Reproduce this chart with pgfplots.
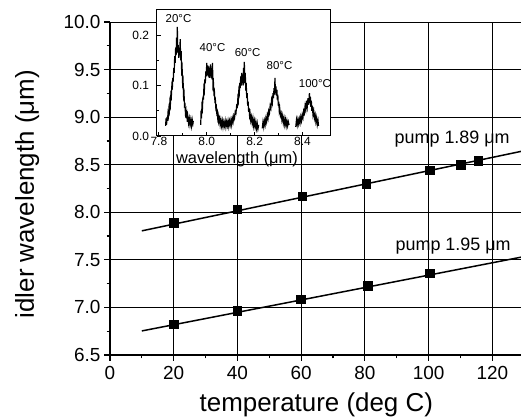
\documentclass[border=0pt]{standalone}
\usepackage{fontspec}
\setmainfont{Liberation Sans}
\usepackage{pgfplots}
\pgfplotsset{compat=1.18}
\begin{document}
\begin{tikzpicture}
\begin{axis}[
  at={(110bp,64bp)}, anchor=south west,
  scale only axis, width=411bp, height=333bp,
  xmin=0, xmax=129, ymin=6.5, ymax=10,
  axis x line*=bottom, axis y line*=left,
  xtick={0,20,...,120}, minor x tick num=1,
  ytick={6.5,7,...,10}, minor y tick num=1,
  tick align=outside,
  major tick length=6bp, minor tick length=3.5bp,
  grid=major, major grid style={black, line width=0.8bp},
  axis line style={line width=1.4bp},
  every tick/.style={black, line width=1.2bp},
  y tick label style={/pgf/number format/.cd,fixed,fixed zerofill,precision=1,/tikz/.cd},
  x tick label style={yshift=-2bp},
  /pgf/number format/assume math mode=true,
  tick label style={font=\fontsize{19}{22}\selectfont},
  xlabel={temperature (deg C)}, ylabel={idler wavelength (μm)},
  label style={font=\fontsize{26}{30}\selectfont},
  xlabel style={at={(rel axis cs:0.502,-0.171)}, anchor=base},
  ylabel style={at={(rel axis cs:-0.185,0.483)}, anchor=base},
]
\addplot[black, line width=1.5bp] coordinates {(10,7.805) (129,8.64)};
\addplot[only marks, mark=square*, mark size=4.2bp, black, mark options={line width=0.5bp}] coordinates {(20,7.89) (40,8.03) (60.3,8.17) (80.4,8.30) (100.3,8.44) (110.1,8.50) (115.6,8.54)};
\addplot[black, line width=1.5bp] coordinates {(10,6.753) (129,7.528)};
\addplot[only marks, mark=square*, mark size=4.2bp, black, mark options={line width=0.5bp}] coordinates {(20,6.826) (40,6.963) (59.9,7.086) (80.9,7.226) (100.3,7.36)};
\node[anchor=base, font=\fontsize{18}{21}\selectfont] at (axis cs:107.4,8.72) {pump 1.89 μm};
\node[anchor=base, font=\fontsize{18}{21}\selectfont] at (axis cs:107.7,7.598) {pump 1.95 μm};
\end{axis}
\begin{axis}[
  at={(156.5bp,283bp)}, anchor=south west,
  scale only axis, width=174.2bp, height=126.7bp,
  xmin=7.79, xmax=8.518, ymin=0, ymax=0.251,
  axis background/.style={fill=white},
  xtick={7.8,8.0,8.2,8.4}, ytick={0,0.1,0.2},
  minor x tick num=1, minor y tick num=1,
  xtick pos=left, ytick pos=left,
  tick align=inside, major tick length=4bp, minor tick length=2.5bp,
  axis line style={line width=1bp},
  every tick/.style={black, line width=0.8bp},
  x tick label style={/pgf/number format/.cd,fixed,fixed zerofill,precision=1,/tikz/.cd, inner sep=1bp},
  y tick label style={/pgf/number format/.cd,fixed,fixed zerofill,precision=1,/tikz/.cd, xshift=-4bp},
  /pgf/number format/assume math mode=true,
  tick label style={font=\fontsize{12}{14}\selectfont},
  xlabel={wavelength (μm)},
  xlabel style={font=\fontsize{16.5}{19}\selectfont, at={(rel axis cs:0.462,-0.215)}, anchor=base},
]
\addplot[black, line width=1.2bp] coordinates {
(7.828,0.020) (7.830,0.035) (7.832,0.022) (7.834,0.038) (7.836,0.030) (7.838,0.045) (7.840,0.040) (7.842,0.055) (7.844,0.050) (7.846,0.068) (7.848,0.062) (7.850,0.082) (7.852,0.078) (7.854,0.098) (7.856,0.092) (7.858,0.115) (7.860,0.108) (7.862,0.135) (7.864,0.125) (7.866,0.158) (7.868,0.145) (7.870,0.175) (7.872,0.160) (7.874,0.195) (7.876,0.170) (7.877,0.216) (7.879,0.165) (7.881,0.180) (7.883,0.155) (7.885,0.175) (7.887,0.160) (7.889,0.192) (7.891,0.150) (7.893,0.168) (7.895,0.130) (7.897,0.135) (7.899,0.105) (7.901,0.110) (7.903,0.080) (7.905,0.085) (7.907,0.060) (7.909,0.062) (7.911,0.045) (7.913,0.050) (7.915,0.035) (7.917,0.042) (7.919,0.028) (7.921,0.038) (7.924,0.025) (7.927,0.035) (7.930,0.022) (7.933,0.032) (7.936,0.020) (7.939,0.033) (7.942,0.024) (7.944,0.030)};
\addplot[black, line width=1.2bp] coordinates {
(7.975,0.022) (7.976,0.050) (7.978,0.035) (7.980,0.060) (7.982,0.055) (7.984,0.078) (7.986,0.072) (7.988,0.095) (7.990,0.090) (7.992,0.112) (7.994,0.105) (7.996,0.128) (7.998,0.118) (8.000,0.145) (8.002,0.120) (8.004,0.140) (8.006,0.118) (8.008,0.138) (8.010,0.115) (8.012,0.135) (8.014,0.118) (8.016,0.142) (8.018,0.115) (8.020,0.132) (8.022,0.112) (8.024,0.145) (8.026,0.100) (8.028,0.105) (8.030,0.085) (8.032,0.088) (8.034,0.070) (8.036,0.072) (8.038,0.055) (8.040,0.058) (8.042,0.045) (8.044,0.048) (8.046,0.035) (8.048,0.040) (8.050,0.028) (8.053,0.035) (8.056,0.022) (8.059,0.032) (8.062,0.020) (8.065,0.030) (8.068,0.018) (8.071,0.028) (8.074,0.020) (8.077,0.030) (8.080,0.018) (8.083,0.028) (8.086,0.020) (8.089,0.030) (8.092,0.019) (8.095,0.030) (8.098,0.022) (8.101,0.032) (8.104,0.022) (8.107,0.035) (8.110,0.028) (8.113,0.040) (8.116,0.035) (8.119,0.048) (8.122,0.045) (8.125,0.060) (8.128,0.058) (8.130,0.075) (8.132,0.070) (8.134,0.090) (8.136,0.085) (8.138,0.105) (8.140,0.095) (8.142,0.118) (8.144,0.100) (8.146,0.125) (8.148,0.105) (8.150,0.122) (8.152,0.100) (8.154,0.135) (8.156,0.110) (8.157,0.147) (8.159,0.105) (8.161,0.125) (8.163,0.090) (8.165,0.105) (8.167,0.075) (8.169,0.085) (8.171,0.060) (8.173,0.068) (8.175,0.048) (8.177,0.055) (8.179,0.040) (8.181,0.045) (8.184,0.030) (8.187,0.038) (8.190,0.025) (8.193,0.035) (8.196,0.020) (8.199,0.030) (8.202,0.018) (8.205,0.028) (8.208,0.015) (8.211,0.025) (8.214,0.014) (8.217,0.022)};
\addplot[black, line width=1.2bp] coordinates {
(8.232,0.015) (8.235,0.028) (8.238,0.018) (8.241,0.030) (8.244,0.022) (8.247,0.035) (8.250,0.028) (8.253,0.042) (8.256,0.035) (8.259,0.050) (8.262,0.045) (8.265,0.060) (8.268,0.055) (8.271,0.072) (8.274,0.065) (8.277,0.085) (8.279,0.075) (8.281,0.095) (8.283,0.082) (8.285,0.115) (8.287,0.085) (8.289,0.098) (8.291,0.080) (8.293,0.092) (8.295,0.072) (8.297,0.082) (8.299,0.060) (8.301,0.068) (8.303,0.050) (8.305,0.055) (8.308,0.040) (8.311,0.045) (8.314,0.032) (8.317,0.040) (8.320,0.026) (8.323,0.035) (8.326,0.022) (8.329,0.032) (8.332,0.020) (8.335,0.030) (8.338,0.020) (8.341,0.028) (8.344,0.022)};
\addplot[black, line width=1.2bp] coordinates {
(8.372,0.018) (8.375,0.032) (8.378,0.022) (8.381,0.033) (8.384,0.024) (8.387,0.034) (8.390,0.026) (8.393,0.038) (8.396,0.030) (8.399,0.042) (8.402,0.036) (8.405,0.050) (8.408,0.045) (8.411,0.060) (8.414,0.052) (8.417,0.070) (8.420,0.058) (8.423,0.075) (8.426,0.062) (8.429,0.085) (8.431,0.065) (8.433,0.078) (8.435,0.058) (8.437,0.070) (8.439,0.050) (8.441,0.060) (8.444,0.042) (8.447,0.050) (8.450,0.035) (8.453,0.042) (8.456,0.028) (8.459,0.036) (8.462,0.022) (8.465,0.030) (8.467,0.020)};
\node[anchor=base, font=\fontsize{11.5}{13}\selectfont] at (axis cs:7.882,0.2257) {20°C};
\node[anchor=base, font=\fontsize{11.5}{13}\selectfont] at (axis cs:8.024,0.167) {40°C};
\node[anchor=base, font=\fontsize{11.5}{13}\selectfont] at (axis cs:8.171,0.157) {60°C};
\node[anchor=base, font=\fontsize{11.5}{13}\selectfont] at (axis cs:8.304,0.131) {80°C};
\node[anchor=base, font=\fontsize{11.5}{13}\selectfont] at (axis cs:8.452,0.097) {100°C};
\end{axis}
\pgfresetboundingbox
\path[use as bounding box] (0,0) rectangle (521bp,419bp);
\end{tikzpicture}
\end{document}
